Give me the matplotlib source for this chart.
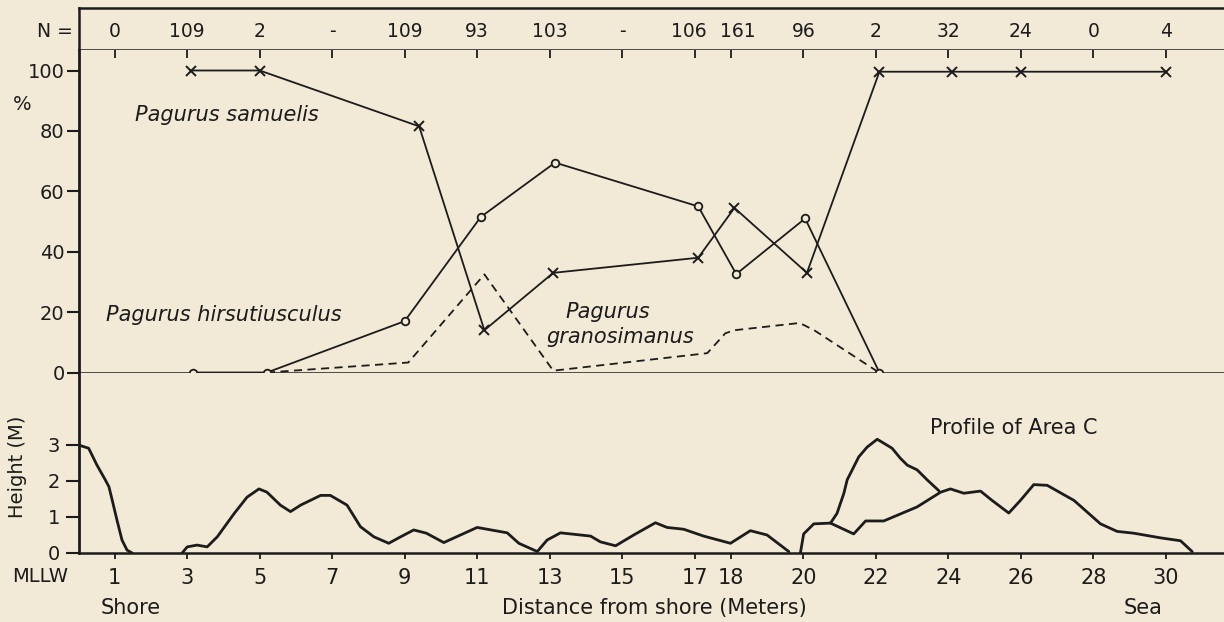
import numpy as np
import matplotlib
matplotlib.use("Agg")
import matplotlib.pyplot as plt


# sample sizes per station (top strip)
n_pos = [1, 3, 5, 7, 9, 11, 13, 15, 16.85, 18.2, 20, 22, 24, 26, 28, 30]
n_labels = ["0", "109", "2", "-", "109", "93", "103", "-", "106", "161", "96", "2", "32", "24", "0", "4"]

# percent of each species
samuelis_x = [3.1, 5.0, 9.4, 11.2, 13.1, 17.1, 18.1, 20.1, 22.1, 24.1, 26.0, 30.0]
samuelis_y = [100, 100, 81.5, 14, 33, 38, 54.5, 33, 99.6, 99.6, 99.6, 99.6]

hirsut_x = [3.15, 5.2, 9.0, 11.1, 13.15, 17.1, 18.15, 20.05, 22.1]
hirsut_y = [0, 0, 17, 51.5, 69.5, 55, 32.6, 51, 0]

granos_x = [5.2, 9.1, 11.2, 13.1, 17.35, 17.85, 18.1, 19.9, 20.3, 22.05]
granos_y = [0, 3.3, 32.5, 0.6, 6.4, 13, 14, 16.4, 14, 0.3]

# profile of area C (height in m)
shore_x = [0.0, 0.28, 0.51, 0.74, 0.84, 0.93, 1.06, 1.2, 1.34, 1.48]
shore_y = [3.0, 2.91, 2.44, 2.03, 1.84, 1.47, 0.92, 0.36, 0.08, 0.0]

mid_x = [2.86, 3.0, 3.27, 3.55, 3.83, 4.29, 4.65, 4.98, 5.2, 5.57, 5.85, 6.13, 6.68, 6.95,
         7.41, 7.78, 8.15, 8.56, 8.89, 9.25, 9.6, 10.08, 11.0, 11.83, 12.15, 12.66, 12.93,
         13.3, 14.13, 14.4, 14.82, 15.32, 15.92, 16.24, 16.7, 17.25, 17.99, 18.54, 19.0, 19.6]
mid_y = [0.0, 0.17, 0.22, 0.17, 0.45, 1.09, 1.55, 1.78, 1.69, 1.33, 1.15, 1.33, 1.6, 1.6,
         1.33, 0.73, 0.45, 0.27, 0.45, 0.64, 0.55, 0.29, 0.71, 0.56, 0.27, 0.04, 0.36,
         0.56, 0.47, 0.31, 0.2, 0.5, 0.84, 0.71, 0.66, 0.47, 0.27, 0.62, 0.5, 0.04]

sea_x = [19.92, 20.01, 20.29, 20.75, 21.39, 21.72, 22.22, 23.14, 23.79, 24.06, 24.43, 24.89,
         25.21, 25.67, 25.99, 26.36, 26.73, 27.47, 28.2, 28.66, 29.12, 29.86, 30.41, 30.73]
sea_y = [0.0, 0.53, 0.81, 0.83, 0.53, 0.89, 0.89, 1.28, 1.69, 1.78, 1.66, 1.72,
         1.46, 1.11, 1.46, 1.9, 1.88, 1.46, 0.81, 0.6, 0.55, 0.42, 0.34, 0.04]

ridge_x = [20.75, 20.93, 21.12, 21.21, 21.53, 21.76, 22.04, 22.22, 22.45, 22.68, 22.87, 23.14, 23.42, 23.74]
ridge_y = [0.83, 1.1, 1.66, 2.03, 2.67, 2.94, 3.16, 3.05, 2.91, 2.63, 2.44, 2.31, 2.03, 1.73]

tick_pos = [1, 3, 5, 7, 9, 11, 13, 15, 17, 18, 20, 22, 24, 26, 28, 30]


bg = "#f2e9d6"
ink = "#1c1c1c"
plt.rcParams["font.family"] = "DejaVu Sans"
plt.rcParams["text.color"] = ink

W, H = 1224, 622
fig = plt.figure(figsize=(W / 100, H / 100), dpi=100, facecolor=bg)


def px_axes(x0, y0, x1, y1):
	# axes from pixel box (top-left origin)
	return fig.add_axes([x0 / W, 1 - y1 / H, (x1 - x0) / W, (y1 - y0) / H], facecolor=bg)


xmax = (W - 78.5) / 36.24

ax_n = px_axes(78.5, 8, W, 50)
ax_p = px_axes(78.5, 50, W, 372.5)
ax_h = px_axes(78.5, 372.5, W, 553)

for ax in (ax_n, ax_p, ax_h):
	ax.set_xlim(0, xmax)
	ax.spines["right"].set_visible(False)
	for s in ax.spines.values():
		s.set_color(ink)

# N strip
ax_n.set_ylim(0, 1)
ax_n.set_xticks([])
ax_n.set_yticks([])
for s in ("top", "left", "bottom"):
	ax_n.spines[s].set_linewidth(1.8)
for x, lab in zip(n_pos, n_labels):
	ax_n.text(x, 0.45, lab, ha="center", va="center", fontsize=13.5)
ax_n.text(-0.15, 0.45, "N =", ha="right", va="center", fontsize=13.5, clip_on=False)

# percent panel
ax_p.set_ylim(0, (372.5 - 50) / 3.02)
ax_p.spines["top"].set_visible(False)
ax_p.spines["left"].set_linewidth(2)
ax_p.spines["bottom"].set_linewidth(1.8)
ax_p.set_yticks([0, 20, 40, 60, 80, 100])
ax_p.set_xticks(tick_pos)
ax_p.tick_params(axis="y", direction="out", length=8.5, width=1.5, pad=1.5, labelsize=14, colors=ink)
ax_p.tick_params(axis="x", top=True, bottom=False, labelbottom=False, direction="in",
	length=6, width=1.3, colors=ink)

ax_p.plot(samuelis_x, samuelis_y, color=ink, lw=1.3, marker="x", ms=7, mew=1.4)
ax_p.plot(hirsut_x, hirsut_y, color=ink, lw=1.3, marker="o", ms=5.5, mew=1.3, mfc=bg, zorder=3)
ax_p.plot(granos_x, granos_y, color=ink, lw=1.3, ls=(0, (4.5, 3)))

ax_p.text(1.57, 85.3, "Pagurus samuelis", style="italic", fontsize=15, va="center")
ax_p.text(0.75, 19, "Pagurus hirsutiusculus", style="italic", fontsize=15, va="center")
ax_p.text(14.6, 20, "Pagurus", style="italic", fontsize=15, ha="center", va="center")
ax_p.text(14.95, 11.7, "granosimanus", style="italic", fontsize=15, ha="center", va="center")

# height profile
ax_h.set_ylim(0, (553 - 372.5) / 36)
ax_h.spines["top"].set_visible(False)
ax_h.spines["left"].set_linewidth(2)
ax_h.spines["bottom"].set_linewidth(1.8)
ax_h.set_yticks([0, 1, 2, 3])
ax_h.set_yticklabels(["0", "1", "2", "3"])
ax_h.set_xticks(tick_pos)
ax_h.set_xticklabels([str(t) for t in tick_pos])
ax_h.tick_params(axis="y", direction="out", length=9.5, width=1.5, pad=4, labelsize=14, colors=ink)
ax_h.tick_params(axis="x", direction="out", length=4.5, width=1.3, pad=6, labelsize=15, colors=ink)

for xs, ys in ((shore_x, shore_y), (mid_x, mid_y), (sea_x, sea_y), (ridge_x, ridge_y)):
	ax_h.plot(xs, ys, color=ink, lw=2.0, solid_joinstyle="round", solid_capstyle="round")

ax_h.text(23.5, 3.47, "Profile of Area C", fontsize=15, va="center")

# labels outside the axes
fig.text(22 / W, 1 - 104 / H, "%", fontsize=14, ha="center", va="center")
fig.text(18 / W, 1 - 467 / H, "Height (M)", fontsize=14, rotation=90, ha="center", va="center")
fig.text(40 / W, 1 - 577 / H, "MLLW", fontsize=14, ha="center", va="center")
fig.text(131 / W, 1 - 608 / H, "Shore", fontsize=15, ha="center", va="center")
fig.text(654 / W, 1 - 608 / H, "Distance from shore (Meters)", fontsize=15, ha="center", va="center")
fig.text(1143 / W, 1 - 608 / H, "Sea", fontsize=15, ha="center", va="center")

fig.savefig("out.png", dpi=100, facecolor=bg)
